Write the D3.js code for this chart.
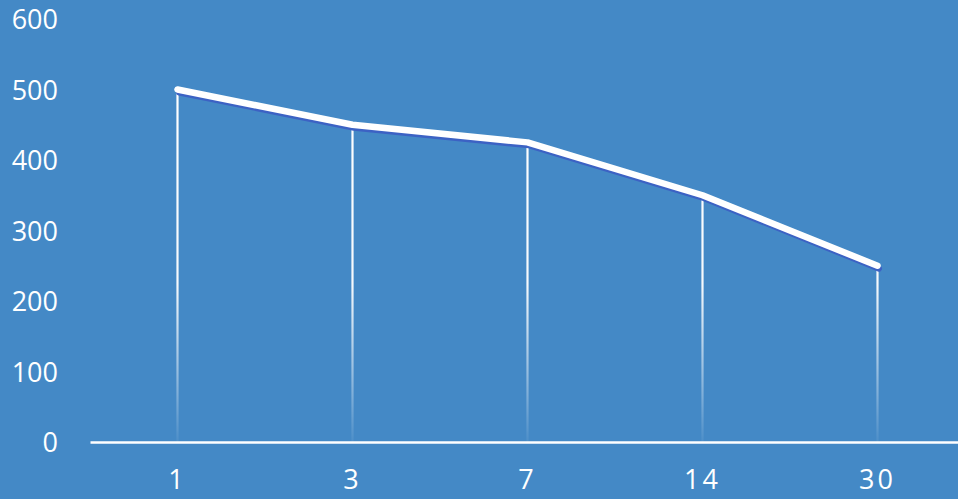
<!DOCTYPE html>
<html>
<head>
<meta charset="utf-8">
<script src="https://cdn.jsdelivr.net/npm/d3@7"></script>
<style>
  html, body { margin: 0; padding: 0; background: #4489c6; }
  svg { display: block; }
</style>
</head>
<body>
<script>
// Data
var days = ["1", "3", "7", "14", "30"];
var values = [500, 450, 425, 350, 250];
var yTicks = [0, 100, 200, 300, 400, 500, 600];

var width = 958, height = 499;
var margin = {left: 90, right: -7, top: 19, bottom: 57};

var svg = d3.select("body").append("svg")
    .attr("width", width).attr("height", height);

svg.append("rect").attr("width", width).attr("height", height).attr("fill", "#4489c6");

var x = d3.scaleBand()
    .domain(days)
    .range([margin.left, width - margin.right]);

var y = d3.scaleLinear()
    .domain([0, 600])
    .range([height - margin.bottom, margin.top]);

// gradient for the drop lines: solid white at top, fading near the axis
var defs = svg.append("defs");
var grad = defs.append("linearGradient")
    .attr("id", "drop")
    .attr("gradientUnits", "userSpaceOnUse")
    .attr("x1", 0).attr("x2", 0)
    .attr("y1", y(500)).attr("y2", y(0));
grad.append("stop").attr("offset", "0").attr("stop-color", "#fff").attr("stop-opacity", 1);
grad.append("stop").attr("offset", "0.55").attr("stop-color", "#fff").attr("stop-opacity", 0.95);
grad.append("stop").attr("offset", "1").attr("stop-color", "#fff").attr("stop-opacity", 0.05);

// y axis labels (no line, no ticks)
var yAxis = d3.axisLeft(y).tickValues(yTicks).tickSize(0).tickPadding(0);
var gy = svg.append("g")
    .attr("transform", "translate(58,0)")
    .call(yAxis);
gy.select(".domain").remove();
gy.selectAll("text")
    .attr("fill", "#fff")
    .attr("font-family", "'Open Sans', sans-serif")
    .attr("font-size", "27px")
    .attr("dy", "0.36em");

// drop lines
var cx = function(d, i) { return x(days[i]) + x.bandwidth() / 2; };
svg.append("g").selectAll("line")
    .data(values)
    .join("line")
    .attr("x1", cx).attr("x2", cx)
    .attr("y1", function(d) { return y(d); })
    .attr("y2", y(0))
    .attr("stroke", "url(#drop)")
    .attr("stroke-width", 2.2);

// x axis line + labels
var xAxis = d3.axisBottom(x).tickSize(0).tickPadding(28);
var gx = svg.append("g")
    .attr("transform", "translate(0," + y(0) + ")")
    .call(xAxis);
gx.select(".domain")
    .attr("stroke", "#fff")
    .attr("stroke-width", 2.5);
gx.selectAll("text")
    .attr("fill", "#fff")
    .attr("font-family", "'Open Sans', sans-serif")
    .attr("font-size", "27px")
    .attr("letter-spacing", "3px")
    .attr("dy", "0.71em");

// the line with its darker shadow
var line = d3.line()
    .x(function(d, i) { return cx(d, i); })
    .y(function(d) { return y(d); });

svg.append("path")
    .attr("d", line(values))
    .attr("transform", "translate(1.5,3)")
    .attr("fill", "none")
    .attr("stroke", "#3c62c4")
    .attr("stroke-width", 6)
    .attr("stroke-linecap", "round")
    .attr("stroke-linejoin", "round");

svg.append("path")
    .attr("d", line(values))
    .attr("fill", "none")
    .attr("stroke", "#fff")
    .attr("stroke-width", 6.5)
    .attr("stroke-linecap", "round")
    .attr("stroke-linejoin", "round");
</script>
</body>
</html>
